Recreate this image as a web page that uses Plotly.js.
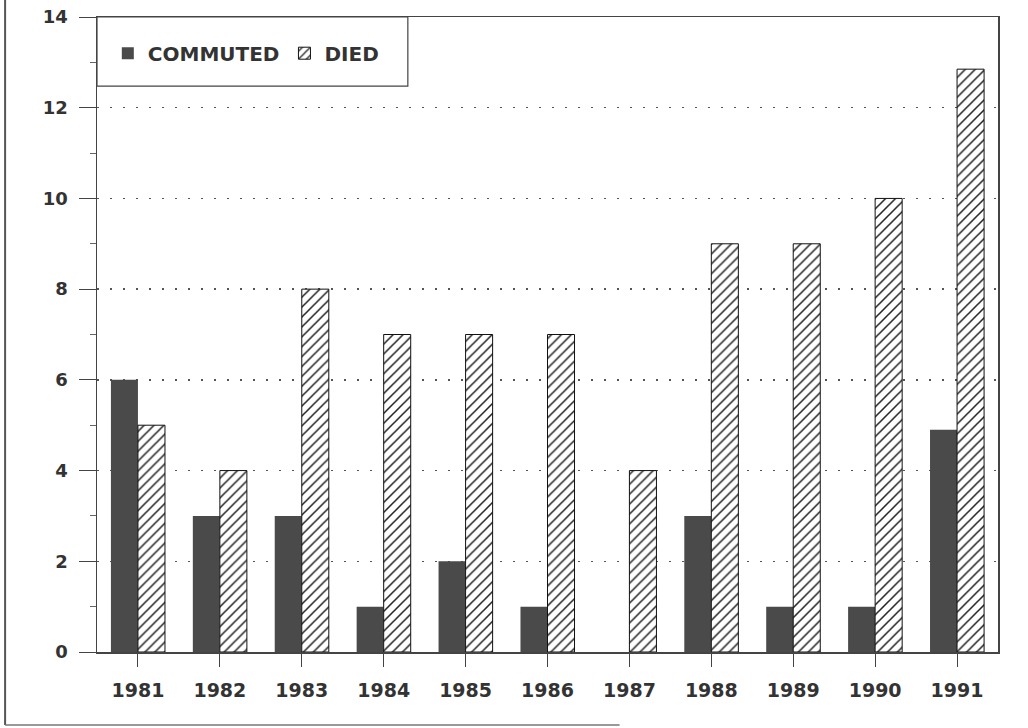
<!DOCTYPE html>
<html>
<head>
<meta charset="utf-8">
<script src="https://cdn.plot.ly/plotly-3.0.1.min.js"></script>
<style>html,body{margin:0;padding:0;background:#fff;}#chart{width:1028px;height:728px;}</style>
</head>
<body>
<div id="chart"></div>
<script>
const years = ["1981","1982","1983","1984","1985","1986","1987","1988","1989","1990","1991"];
const commuted = [6, 3, 3, 1, 2, 1, 0, 3, 1, 1, 4.9];
const died = [5, 4, 8, 7, 7, 7, 4, 9, 9, 10, 12.85];
const yTicks = [0, 2, 4, 6, 8, 10, 12, 14];

const fontFam = "DejaVu Sans, Liberation Sans, Arial, sans-serif";

const traces = [
  {
    type: "bar", name: "COMMUTED", x: years, y: commuted,
    marker: {color: "#4a4a4a", line: {color: "#4a4a4a", width: 0}}
  },
  {
    type: "bar", name: "DIED", x: years, y: died,
    marker: {color: "#ffffff", line: {color: "#111", width: 1},
      pattern: {shape: "/", fgcolor: "#222", bgcolor: "#ffffff", size: 7, solidity: 0.22}}
  }
];

const layout = {
  width: 1028, height: 728,
  margin: {l: 97, r: 30, t: 17, b: 76},
  paper_bgcolor: "#ffffff", plot_bgcolor: "#ffffff",
  barmode: "group", bargap: 0.34, bargroupgap: 0,
  showlegend: true,
  legend: {
    orientation: "h", x: 0.012, y: 0.943, xanchor: "left", yanchor: "middle",
    font: {family: fontFam, size: 20, color: "#333", weight: "bold"},
    bgcolor: "rgba(0,0,0,0)", borderwidth: 0, itemwidth: 30, tracegroupgap: 0
  },
  xaxis: {
    type: "category", showgrid: false, showline: true, linecolor: "#444", linewidth: 1.5,
    mirror: true, ticks: "outside", ticklen: 13, tickcolor: "#444", tickwidth: 1,
    ticklabelstandoff: 8,
    tickfont: {family: fontFam, size: 19, color: "#333", weight: "bold"},
    zeroline: false
  },
  yaxis: {
    range: [0, 14], tickvals: yTicks, ticktext: yTicks.map(String),
    showline: true, linecolor: "#444", linewidth: 1.5, mirror: true,
    ticks: "outside", ticklen: 17, tickcolor: "#444", tickwidth: 1,
    ticklabelstandoff: 7,
    minor: {dtick: 1, ticks: "outside", ticklen: 6, tickcolor: "#666", showgrid: false},
    tickfont: {family: fontFam, size: 18, color: "#333", weight: "bold"},
    showgrid: true, gridcolor: "#555", gridwidth: 1.5, griddash: "2px,11px",
    zeroline: false
  },
  shapes: [
    {type: "rect", xref: "paper", yref: "paper", x0: 0, x1: 0.345, y0: 0.891, y1: 1,
     line: {color: "#444", width: 1.2}, fillcolor: "#ffffff", layer: "above"},
    {type: "line", xref: "paper", yref: "paper", x0: -0.102, x1: -0.102, y0: -0.115, y1: 1.027,
     line: {color: "#555", width: 2}},
    {type: "line", xref: "paper", yref: "paper", x0: -0.102, x1: 0.58, y0: -0.115, y1: -0.115,
     line: {color: "#777", width: 1.5}}
  ]
};

Plotly.newPlot("chart", traces, layout, {displayModeBar: false, staticPlot: true});
</script>
</body>
</html>
